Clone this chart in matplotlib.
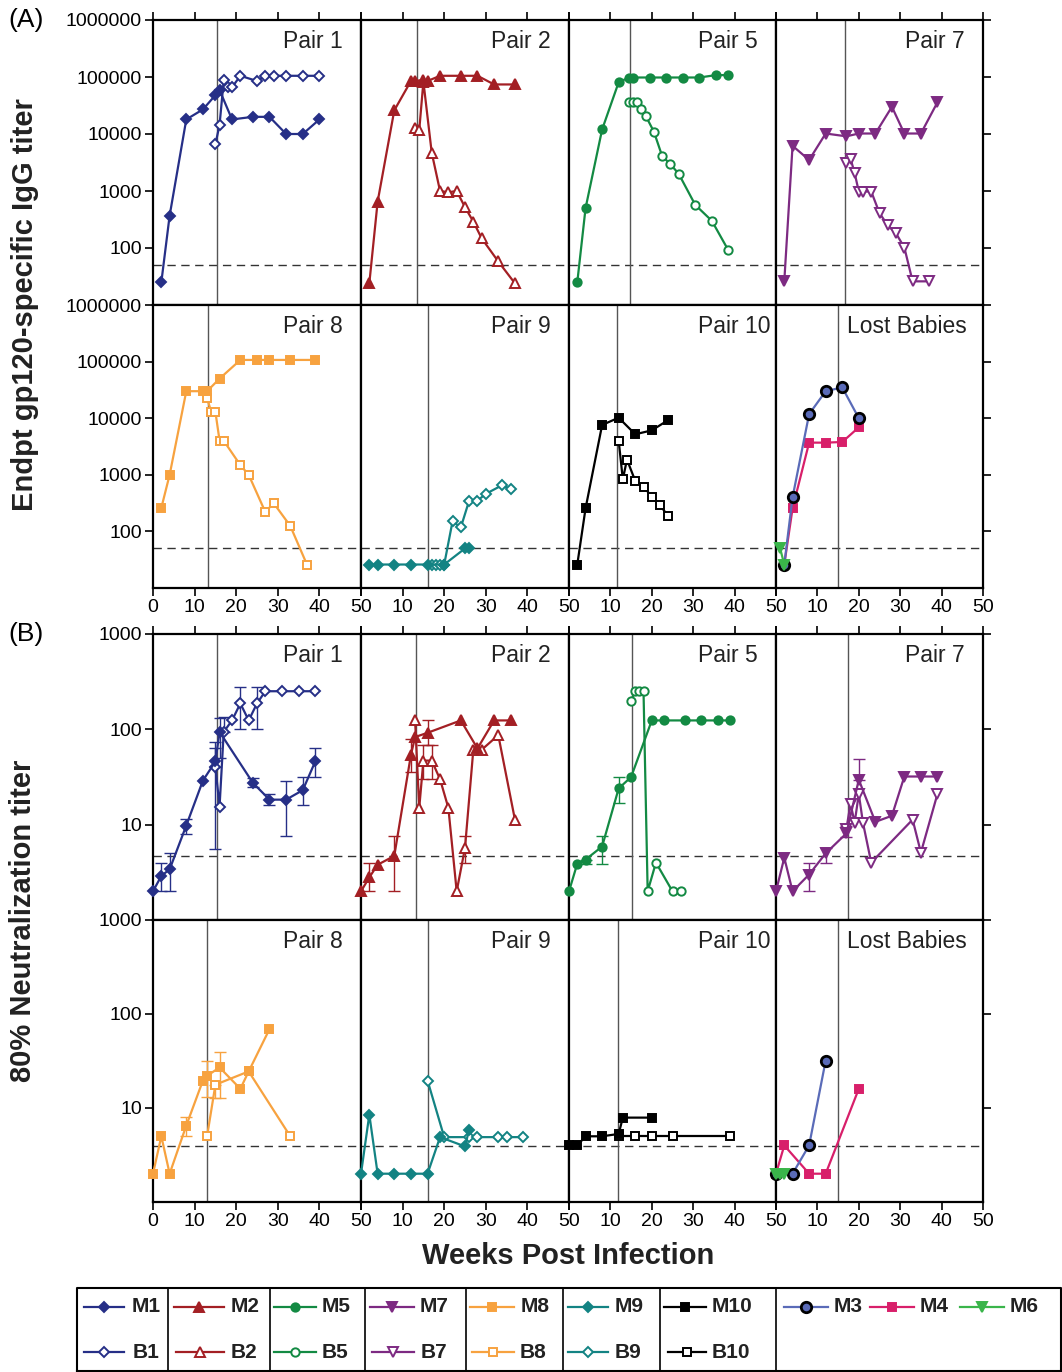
import numpy as np
import matplotlib.pyplot as plt
import matplotlib.ticker as mticker

plt.rcParams['font.family'] = ['Liberation Sans', 'DejaVu Sans']

nan = np.nan

# ---------------- data: panel A, endpoint gp120-specific IgG titer ----------------
IGG_M1_WK = [2, 4, 8, 12, 15, 16, 19, 24, 28, 32, 36, 40]
IGG_M1 = [25, 370, 18000, 27000, 48000, 59000, 18000, 20000, 20000, 10000, 10000, 18000]
IGG_B1_WK = [15, 16, 17, 18, 19, 21, 25, 27, 29, 32, 36, 40]
IGG_B1 = [6600, 14500, 87000, 66000, 66000, 105000, 85000, 105000, 105000, 105000, 105000, 105000]

IGG_M2_WK = [2, 4, 8, 12, 13, 15, 16, 19, 24, 28, 32, 37]
IGG_M2 = [24, 650, 26000, 85000, 85000, 89000, 85000, 105000, 105000, 105000, 74000, 74000]
IGG_B2_WK = [13, 14, 15, 17, 19, 21, 23, 25, 27, 29, 33, 37]
IGG_B2 = [12600, 11700, 83000, 4700, 1000, 950, 1000, 520, 290, 148, 58, 24]

IGG_M5_WK = [2, 4, 8, 12, 14.5, 15.5, 19.5, 23.5, 27.5, 31.5, 35.5, 38.5]
IGG_M5 = [25, 500, 12000, 81000, 98000, 98000, 98000, 98000, 98000, 98000, 108000, 108000]
IGG_B5_WK = [14.5, 15.5, 16.5, 17.5, 18.5, 20.5, 22.5, 24.5, 26.5, 30.5, 34.5, 38.5]
IGG_B5 = [36000, 36000, 36000, 27500, 21000, 11000, 4100, 2950, 2000, 570, 300, 91]

IGG_M7_WK = [2, 4, 8, 12, 17, 20, 24, 28, 31, 35, 39]
IGG_M7 = [26, 6200, 3500, 10200, 9100, 10200, 10200, 30000, 10200, 10200, 36000]
IGG_B7_WK = [17, 18, 19, 20, 21, 23, 25, 27, 29, 31, 33, 37]
IGG_B7 = [3150, 3700, 2050, 980, 980, 980, 410, 250, 180, 102, 26, 26]

IGG_M8_WK = [2, 4, 8, 12, 13, 16, 21, 25, 28, 33, 39]
IGG_M8 = [260, 1000, 30000, 30000, 30000, 50000, 107000, 107000, 107000, 107000, 107000]
IGG_B8_WK = [13, 14, 15, 16, 17, 21, 23, 27, 29, 33, 37]
IGG_B8 = [22400, 13000, 13000, 4000, 4000, 1480, 1000, 220, 316, 125, 26]

IGG_M9_WK = [2, 4, 8, 12, 16, 20, 25, 26]
IGG_M9 = [26, 26, 26, 26, 26, 26, 50, 50]
IGG_B9_WK = [17, 18, 19, 20, 22, 24, 26, 28, 30, 34, 36]
IGG_B9 = [26, 26, 26, 26, 150, 118, 350, 350, 460, 660, 550]

IGG_M10_WK = [2, 4, 8, 12, 16, 20, 24]
IGG_M10 = [26, 255, 7600, 10200, 5200, 6100, 9300]
IGG_B10_WK = [12, 13, 14, 16, 18, 20, 22, 24]
IGG_B10 = [4000, 830, 1860, 780, 620, 410, 290, 184]

IGG_M3_WK = [2, 4, 8, 12, 16, 20]
IGG_M3 = [26, 400, 11800, 30000, 35000, 10000]
IGG_M4_WK = [2, 4, 8, 12, 16, 20]
IGG_M4 = [26, 255, 3700, 3700, 3800, 6900]
IGG_M6_WK = [1, 2]
IGG_M6 = [50, 26]

IGG_VLINE = [15.4, 13.4, 14.7, 16.7, 13.2, 16.0, 11.5, 15.0]
IGG_CUTOFF = [50, 50]

# ---------------- data: panel B, 80% neutralization titer ----------------
NT_M1_WK = [0, 2, 4, 8, 12, 15, 16, 24, 28, 32, 36, 39]
NT_M1 = [2, 2.9, 3.4, 9.8, 29, 46, 94, 27.5, 18.3, 18.3, 23, 46]
NT_M1_LO = [nan, 2, 2, 8, nan, 5.6, 50, 25, 16, 7.6, 16, 32]
NT_M1_HI = [nan, 4, 5, 11.5, nan, 74, 130, 31, 21, 29, 32, 63]
NT_B1_WK = [15, 16, 17, 19, 21, 23, 25, 27, 31, 35, 39]
NT_B1 = [40, 15.5, 94, 124, 187, 124, 187, 251, 251, 251, 251]
NT_B1_LO = [nan, nan, nan, nan, 100, nan, 100, nan, nan, nan, nan]
NT_B1_HI = [63, nan, 135, nan, 277, nan, 277, nan, nan, nan, nan]

NT_M2_WK = [0, 2, 4, 8, 12, 13, 16, 24, 28, 32, 36]
NT_M2 = [2, 2.8, 3.8, 4.7, 54, 83, 92, 124, 63, 124, 124]
NT_M2_LO = [nan, 2, nan, 2, 36, nan, 68, nan, nan, nan, nan]
NT_M2_HI = [nan, 4, nan, 7.6, 79, nan, 124, nan, nan, nan, nan]
NT_B2_WK = [13, 14, 15, 17, 19, 21, 23, 25, 27, 29, 33, 37]
NT_B2 = [124, 15, 47, 47, 30, 15, 2, 5.7, 61, 61, 87, 11.3]
NT_B2_LO = [nan, nan, 30, 30, nan, nan, nan, 4, nan, nan, nan, nan]
NT_B2_HI = [nan, nan, 68, 68, nan, nan, nan, 7.6, nan, nan, nan, nan]

NT_M5_WK = [0, 2, 4, 8, 12, 15, 20, 23, 28, 32, 36, 39]
NT_M5 = [2, 3.9, 4.3, 5.9, 24, 31.6, 124, 124, 124, 124, 124, 124]
NT_M5_LO = [nan, nan, 3.9, 3.9, 17, nan, nan, nan, nan, nan, nan, nan]
NT_M5_HI = [nan, nan, nan, 7.6, 31.6, nan, nan, nan, nan, nan, nan, nan]
NT_B5_WK = [15, 16, 17, 18, 19, 21, 25, 27]
NT_B5 = [200, 250, 250, 250, 2, 4, 2, 2]

NT_M7_WK = [0, 2, 4, 8, 12, 17, 20, 24, 28, 31, 35, 39]
NT_M7 = [2, 4.5, 2, 3, 5, 8.1, 29.6, 10.7, 12.4, 32, 32, 32]
NT_M7_LO = [nan, nan, nan, 2, 4, 7.4, nan, nan, nan, nan, nan, nan]
NT_M7_HI = [nan, nan, nan, 4, 5.7, 9.8, 49, nan, nan, nan, nan, nan]
NT_B7_WK = [17, 18, 19, 20, 21, 23, 33, 35, 39]
NT_B7 = [9, 16.6, 10.5, 21, 10.5, 4.0, 11.3, 5.1, 21]

NT_M8_WK = [0, 2, 4, 8, 12, 13, 16, 21, 23, 28]
NT_M8 = [2, 5, 2, 6.5, 19.6, 22, 27, 16, 24.5, 69]
NT_M8_LO = [nan, nan, nan, 5, nan, 13, 12.7, nan, nan, nan]
NT_M8_HI = [nan, nan, nan, 8, nan, 32, 39, nan, nan, nan]
NT_B8_WK = [13, 15, 23, 33]
NT_B8 = [5, 17.7, 24.5, 5]
NT_B8_LO = [nan, 12.7, nan, nan]
NT_B8_HI = [nan, nan, nan, nan]

NT_M9_WK = [0, 2, 4, 8, 12, 16, 19, 25, 26]
NT_M9 = [2, 8.5, 2, 2, 2, 2, 4.9, 3.9, 5.9]
NT_B9_WK = [16, 20, 26, 28, 33, 35, 39]
NT_B9 = [19.6, 4.9, 4.9, 4.9, 4.9, 4.9, 4.9]

NT_M10_WK = [0, 2, 4, 8, 12, 13, 20]
NT_M10 = [4, 4, 5, 5, 5.3, 7.9, 7.9]
NT_B10_WK = [12, 16, 20, 25, 39]
NT_B10 = [5, 5, 5, 5, 5]

NT_M3_WK = [0, 4, 8, 12]
NT_M3 = [2, 2, 4, 32]
NT_M4_WK = [0, 2, 8, 12, 20]
NT_M4 = [2, 4, 2, 2, 16]
NT_M6_WK = [0, 1, 2]
NT_M6 = [2, 2, 2]

NT_VLINE = [15.3, 13.2, 15.2, 17.3, 13.1, 16.1, 11.9, 14.9]
NT_CUTOFF = [4.7, 3.9]

PANEL_NAMES = ['Pair 1', 'Pair 2', 'Pair 5', 'Pair 7', 'Pair 8', 'Pair 9', 'Pair 10', 'Lost Babies']

# ---------------- styles ----------------
C1, C2, C5, C7 = '#262f87', '#a31f24', '#138a43', '#7d2a82'
C8, C9, C10 = '#f7a23f', '#138383', '#000000'
C3, C4, C6 = '#5a6bb8', '#d81f6a', '#3ab54a'

STYLE = {
    'M1': (C1, 'D', True), 'B1': (C1, 'D', False),
    'M2': (C2, '^', True), 'B2': (C2, '^', False),
    'M5': (C5, 'o', True), 'B5': (C5, 'o', False),
    'M7': (C7, 'v', True), 'B7': (C7, 'v', False),
    'M8': (C8, 's', True), 'B8': (C8, 's', False),
    'M9': (C9, 'D', True), 'B9': (C9, 'D', False),
    'M10': (C10, 's', True), 'B10': (C10, 's', False),
    'M3': (C3, 'o', True), 'M4': (C4, 's', True), 'M6': (C6, 'v', True),
}


def marker_kw(key):
    color, mk, filled = STYLE[key]
    ms = {'D': 5, 's': 5.5, 'o': 6, '^': 7, 'v': 7}[mk]
    kw = dict(color=color, marker=mk, markersize=ms, lw=1.6,
              markerfacecolor=color if filled else 'white',
              markeredgecolor=color, markeredgewidth=1.4)
    if key == 'M3':
        kw.update(markeredgecolor='black', markeredgewidth=2, markersize=7.5)
    return kw


IGG_SERIES = [
    [('B1', IGG_B1_WK, IGG_B1), ('M1', IGG_M1_WK, IGG_M1)],
    [('B2', IGG_B2_WK, IGG_B2), ('M2', IGG_M2_WK, IGG_M2)],
    [('B5', IGG_B5_WK, IGG_B5), ('M5', IGG_M5_WK, IGG_M5)],
    [('B7', IGG_B7_WK, IGG_B7), ('M7', IGG_M7_WK, IGG_M7)],
    [('B8', IGG_B8_WK, IGG_B8), ('M8', IGG_M8_WK, IGG_M8)],
    [('B9', IGG_B9_WK, IGG_B9), ('M9', IGG_M9_WK, IGG_M9)],
    [('B10', IGG_B10_WK, IGG_B10), ('M10', IGG_M10_WK, IGG_M10)],
    [('M4', IGG_M4_WK, IGG_M4), ('M3', IGG_M3_WK, IGG_M3), ('M6', IGG_M6_WK, IGG_M6)],
]

NT_SERIES = [
    [('B1', NT_B1_WK, NT_B1, NT_B1_LO, NT_B1_HI), ('M1', NT_M1_WK, NT_M1, NT_M1_LO, NT_M1_HI)],
    [('B2', NT_B2_WK, NT_B2, NT_B2_LO, NT_B2_HI), ('M2', NT_M2_WK, NT_M2, NT_M2_LO, NT_M2_HI)],
    [('B5', NT_B5_WK, NT_B5), ('M5', NT_M5_WK, NT_M5, NT_M5_LO, NT_M5_HI)],
    [('B7', NT_B7_WK, NT_B7), ('M7', NT_M7_WK, NT_M7, NT_M7_LO, NT_M7_HI)],
    [('B8', NT_B8_WK, NT_B8, NT_B8_LO, NT_B8_HI), ('M8', NT_M8_WK, NT_M8, NT_M8_LO, NT_M8_HI)],
    [('B9', NT_B9_WK, NT_B9), ('M9', NT_M9_WK, NT_M9)],
    [('B10', NT_B10_WK, NT_B10), ('M10', NT_M10_WK, NT_M10)],
    [('M4', NT_M4_WK, NT_M4), ('M3', NT_M3_WK, NT_M3), ('M6', NT_M6_WK, NT_M6)],
]

# ---------------- layout (pixels) ----------------
W, H = 1062, 1372
COL_X = [153, 361, 569, 776, 983]
ROWS_A = [20, 305, 588]
ROWS_B = [634, 920, 1202]

fig = plt.figure(figsize=(W / 100, H / 100), dpi=100)


def add_ax(col, y0, y1):
    x0, x1 = COL_X[col], COL_X[col + 1]
    return fig.add_axes([x0 / W, 1 - y1 / H, (x1 - x0) / W, (y1 - y0) / H])


def draw_err(ax, key, wk, y, lo, hi):
    color = STYLE[key][0]
    wk, y, lo, hi = (np.asarray(a, float) for a in (wk, y, lo, hi))
    m = ~(np.isnan(lo) & np.isnan(hi))
    if not m.any():
        return
    lo2 = np.where(np.isnan(lo), y, lo)
    hi2 = np.where(np.isnan(hi), y, hi)
    ax.errorbar(wk[m], y[m], yerr=[y[m] - lo2[m], hi2[m] - y[m]], fmt='none',
                ecolor=color, elinewidth=1, capsize=4, capthick=1, zorder=3)


def setup(ax, r, c, ylim, yticks, cutoff, vline, name):
    ax.set_yscale('log')
    ax.set_xlim(0, 50)
    ax.set_ylim(*ylim)
    ax.yaxis.set_minor_locator(mticker.NullLocator())
    ax.set_yticks(yticks)
    ax.set_yticklabels([str(int(v)) for v in yticks])
    for s in ax.spines.values():
        s.set_linewidth(1.6)
    ax.tick_params(direction='out', length=6, width=1.2, labelsize=14, pad=2)
    if c == 0:
        ax.tick_params(axis='y', left=True, labelleft=True, right=False)
    elif c == 3:
        ax.tick_params(axis='y', left=False, labelleft=False, right=True, labelright=False)
    else:
        ax.tick_params(axis='y', left=False, labelleft=False)
    ax.set_xticks([0, 10, 20, 30, 40, 50])
    if r == 0:
        ax.tick_params(axis='x', top=True, bottom=False, labelbottom=False, labeltop=False)
    else:
        ax.set_xticklabels(['0' if c == 0 else '', '10', '20', '30', '40', '50'])
        ax.tick_params(axis='x', top=False, bottom=True, labelbottom=True)
    ax.axhline(cutoff, color='#333333', lw=1, ls=(0, (6, 4)), zorder=1)
    ax.axvline(vline, color='#555555', lw=1, zorder=1)
    tx = 0.345 if name == 'Lost Babies' else 0.625
    ax.text(tx, 0.965, name, transform=ax.transAxes, ha='left', va='top',
            fontsize=16.5, color='#222222')


# panel A
for i in range(8):
    r, c = divmod(i, 4)
    ax = add_ax(c, ROWS_A[r], ROWS_A[r + 1])
    setup(ax, r, c, (10, 1e6), [100, 1000, 10000, 100000, 1000000],
          IGG_CUTOFF[r], IGG_VLINE[i], PANEL_NAMES[i])
    for key, wk, vals in IGG_SERIES[i]:
        ax.plot(wk, vals, zorder=4, clip_on=False, **marker_kw(key))

# panel B
for i in range(8):
    r, c = divmod(i, 4)
    ax = add_ax(c, ROWS_B[r], ROWS_B[r + 1])
    setup(ax, r, c, (1, 1000), [10, 100, 1000],
          NT_CUTOFF[r], NT_VLINE[i], PANEL_NAMES[i])
    for s in NT_SERIES[i]:
        key, wk, vals = s[:3]
        if len(s) == 5:
            draw_err(ax, key, wk, vals, s[3], s[4])
        ax.plot(wk, vals, zorder=4, clip_on=False, **marker_kw(key))

# labels
fig.text(25 / W, 1 - 305 / H, 'Endpt gp120-specific IgG titer', rotation=90,
         ha='center', va='center', fontsize=21, fontweight='bold', color='#222222')
fig.text(23 / W, 1 - 921 / H, '80% Neutralization titer', rotation=90,
         ha='center', va='center', fontsize=21, fontweight='bold', color='#222222')
fig.text(568 / W, 1 - 1256 / H, 'Weeks Post Infection', ha='center', va='center',
         fontsize=21, fontweight='bold', color='#222222')
fig.text(8 / W, 1 - 20 / H, '(A)', ha='left', va='center', fontsize=19)
fig.text(8 / W, 1 - 634 / H, '(B)', ha='left', va='center', fontsize=19)

# legend box (pixel coordinates)
lax = fig.add_axes([0, 0, 1, 1], facecolor='none')
lax.set_xlim(0, W)
lax.set_ylim(H, 0)
lax.axis('off')
lax.plot([77, 77, 1061, 1061], [1371, 1288, 1288, 1371], color='black', lw=1.5)
lax.plot([77, 1061], [1371, 1371], color='black', lw=1.5)
for xd in [168, 270, 365, 466, 563, 660, 776]:
    lax.plot([xd, xd], [1288, 1371], color='black', lw=1.2)

LEG_ROW1 = [('M1', 84, 124, 132), ('M2', 174, 224, 231), ('M5', 274, 316, 322),
            ('M7', 370, 414, 420), ('M8', 470, 514, 521), ('M9', 568, 608, 615),
            ('M10', 664, 706, 712), ('M3', 784, 828, 834), ('M4', 870, 914, 920),
            ('M6', 960, 1004, 1010)]
LEG_ROW2 = [('B1', 84, 124, 133), ('B2', 176, 224, 231), ('B5', 274, 316, 322),
            ('B7', 372, 414, 421), ('B8', 472, 514, 520), ('B9', 568, 608, 615),
            ('B10', 668, 706, 712)]
for row, yy in ((LEG_ROW1, 1307), (LEG_ROW2, 1352)):
    for key, xa, xb, xt in row:
        kw = marker_kw(key)
        lax.plot([xa, xb], [yy, yy], color=kw['color'], lw=1.6)
        kw2 = {k: v for k, v in kw.items() if k not in ('lw', 'color')}
        lax.plot([(xa + xb) / 2], [yy], ls='none', **kw2)
        lax.text(xt, yy, key, ha='left', va='center', fontsize=15, fontweight='bold',
                 color='#222222')

fig.savefig('out.png', dpi=100)
